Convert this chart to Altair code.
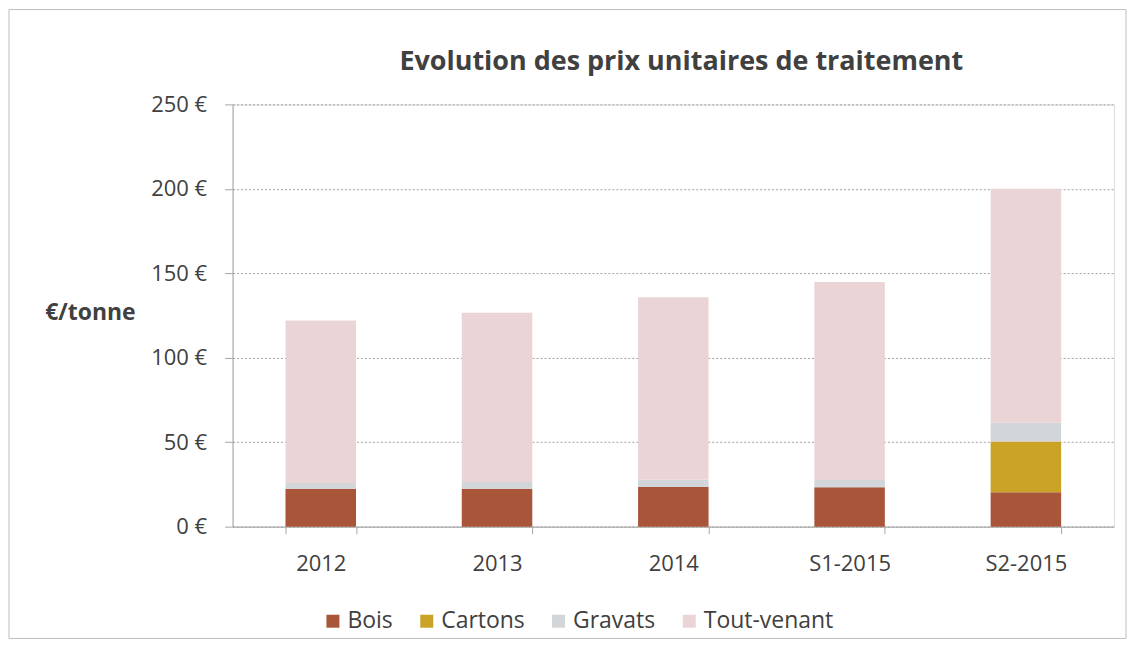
import altair as alt
import pandas as pd

categories = ["2012", "2013", "2014", "S1-2015", "S2-2015"]
series = ["Bois", "Cartons", "Gravats", "Tout-venant"]
bois = [22.5, 22.5, 23.4, 23.3, 20.3]
cartons = [0.0, 0.0, 0.0, 0.0, 30.1]
gravats = [3.3, 4.0, 4.4, 4.3, 11.2]
tout_venant = [96.2, 100.1, 108.0, 117.2, 138.4]
colors = ["#A9553A", "#C9A226", "#D3D6D8", "#EBD4D5"]

values = [bois, cartons, gravats, tout_venant]
rows = []
for si, (name, vals) in enumerate(zip(series, values)):
    for c, v in zip(categories, vals):
        rows.append({"cat": c, "serie": name, "val": v, "ord": si})
df = pd.DataFrame(rows)

FONT = "Open Sans"
W, H = 883, 423

bars = alt.Chart(df).mark_bar().encode(
    x=alt.X("cat:N", sort=categories,
            scale=alt.Scale(paddingInner=0.6, paddingOuter=0.3),
            axis=alt.Axis(title=None, labelAngle=0, tickBand="extent",
                          domainColor="#A6A6A6", tickColor="#A6A6A6",
                          tickSize=7, labelPadding=20, labelFontSize=22,
                          labelColor="#404040", labelFont=FONT, grid=False)),
    y=alt.Y("val:Q", stack="zero",
            scale=alt.Scale(domain=[0, 250], nice=False),
            axis=alt.Axis(values=[0, 50, 100, 150, 200, 250],
                          labelExpr="datum.value + ' €'",
                          title="€/tonne", titleAngle=0, titleX=-143, titleY=208,
                          titleAlign="center", titleBaseline="middle",
                          titleFont=FONT, titleFontSize=23, titleFontWeight="bold",
                          titleColor="#404040",
                          domainColor="#A6A6A6", tickColor="#A6A6A6", tickSize=8,
                          labelPadding=18, labelFontSize=22, labelColor="#404040",
                          labelFont=FONT, gridColor="#A0A0A0", gridDash=[2, 2],
                          gridWidth=1)),
    color=alt.Color("serie:N", scale=alt.Scale(domain=series, range=colors),
                    legend=alt.Legend(title=None, orient="none", direction="horizontal",
                                      legendX=89, legendY=506, symbolType="square",
                                      symbolSize=169, symbolStrokeWidth=0,
                                      labelFontSize=23, labelColor="#404040",
                                      labelFont=FONT, columnPadding=22, labelOffset=3)),
    order=alt.Order("ord:Q"),
)

frame = alt.Chart(pd.DataFrame({"a": [0]})).mark_rect(
    fillOpacity=0, stroke="#BFBFBF", strokeWidth=1
).encode(
    x=alt.value(-224), x2=alt.value(W + 12),
    y=alt.value(-95), y2=alt.value(H + 112),
)

chart = alt.layer(bars, frame).properties(
    width=W, height=H,
    title=alt.TitleParams("Evolution des prix unitaires de traitement",
                          font=FONT, fontSize=27, fontWeight="bold",
                          color="#404040", anchor="middle", dx=8, offset=-67),
    autosize=alt.AutoSizeParams(type="none"),
    padding={"left": 225, "top": 96, "right": 14, "bottom": 116},
).configure_view(stroke=None).configure(background="white")

chart.save("out.html", embed_options={"renderer": "svg", "actions": False})
